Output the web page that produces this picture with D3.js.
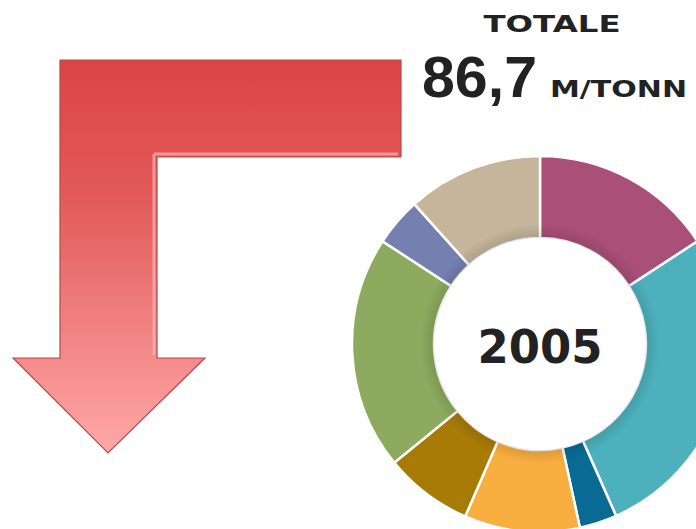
<!DOCTYPE html>
<html>
<head>
<meta charset="utf-8">
<script src="https://cdn.jsdelivr.net/npm/d3@7"></script>
<style>
  body { margin: 0; background: #fff; }
  svg { display: block; }
</style>
</head>
<body>
<svg id="chart" width="696" height="529"></svg>
<script>
// values in M/tonn, read clockwise from 12 o'clock
const values = [13.7, 23.9, 2.8, 8.6, 6.6, 17.4, 3.6, 10.1]
const colors = ["#a94f78", "#4cb1bd", "#096a93", "#f9ae40", "#a87b06", "#8daa5e", "#7580b1", "#c4b59b"]
const year = "2005"
const totalLabel = "TOTALE"
const totalValue = "86,7"
const unit = "M/TONN"

const cx = 540, cy = 344
const outerR = 188, innerR = 106

var svg = d3.select("#chart")
var defs = svg.append("defs")

// arrow gradient
var grad = defs.append("linearGradient")
    .attr("id", "arrowGrad")
    .attr("x1", 0).attr("y1", 0).attr("x2", 0).attr("y2", 1)
grad.append("stop").attr("offset", "0%").attr("stop-color", "#dc4444")
grad.append("stop").attr("offset", "35%").attr("stop-color", "#e25a5a")
grad.append("stop").attr("offset", "100%").attr("stop-color", "#ffa8a8")

// big bent arrow
var arrow = d3.path()
arrow.moveTo(60, 60)
arrow.lineTo(401, 60)
arrow.lineTo(401, 157)
arrow.lineTo(157, 157)
arrow.lineTo(157, 358)
arrow.lineTo(205, 358)
arrow.lineTo(108, 453)
arrow.lineTo(13, 358)
arrow.lineTo(60, 358)
arrow.closePath()

svg.append("path")
    .attr("d", arrow.toString())
    .attr("fill", "url(#arrowGrad)")
    .attr("stroke", "#b84848")
    .attr("stroke-width", 1.2)
    .attr("stroke-linejoin", "miter")

// bevel highlight just inside the inner edges
svg.append("path")
    .attr("d", "M154,154 L398,154 M154,154 L154,355")
    .attr("stroke", "#ffb4b4")
    .attr("stroke-opacity", 0.7)
    .attr("stroke-width", 3)
    .attr("fill", "none")

// donut
var pie = d3.pie().sort(null).value(d => d)
var arc = d3.arc().innerRadius(innerR).outerRadius(outerR)

var g = svg.append("g").attr("transform", "translate(" + cx + "," + cy + ")")

g.selectAll("path.slice")
    .data(pie(values))
    .enter().append("path")
    .attr("class", "slice")
    .attr("d", arc)
    .attr("fill", (d, i) => colors[i])
    .attr("stroke", "#fff")
    .attr("stroke-width", 2.5)

// soft shading toward inner edge
var shade = defs.append("radialGradient")
    .attr("id", "shade")
    .attr("gradientUnits", "userSpaceOnUse")
    .attr("cx", 0).attr("cy", 0).attr("r", outerR)
shade.append("stop").attr("offset", innerR / outerR).attr("stop-color", "#000").attr("stop-opacity", 0.12)
shade.append("stop").attr("offset", (innerR + 14) / outerR).attr("stop-color", "#000").attr("stop-opacity", 0)
shade.append("stop").attr("offset", "100%").attr("stop-color", "#000").attr("stop-opacity", 0)

g.append("path")
    .attr("d", d3.arc().innerRadius(innerR).outerRadius(outerR - 2).startAngle(0).endAngle(2 * Math.PI)())
    .attr("fill", "url(#shade)")
    .attr("pointer-events", "none")

g.append("text")
    .attr("x", 0)
    .attr("y", 19)
    .attr("text-anchor", "middle")
    .attr("font-family", "'DejaVu Sans', sans-serif")
    .attr("font-weight", "bold")
    .attr("font-size", 47)
    .attr("fill", "#222")
    .attr("textLength", 125)
    .attr("lengthAdjust", "spacingAndGlyphs")
    .text(year)

// totals header
svg.append("text")
    .attr("x", 552)
    .attr("y", 32)
    .attr("text-anchor", "middle")
    .attr("font-family", "'DejaVu Sans', sans-serif")
    .attr("font-weight", "bold")
    .attr("font-size", 23)
    .attr("fill", "#222")
    .attr("textLength", 137)
    .attr("lengthAdjust", "spacingAndGlyphs")
    .text(totalLabel)

svg.append("text")
    .attr("x", 422)
    .attr("y", 97)
    .attr("font-family", "'Liberation Sans', Arial, sans-serif")
    .attr("font-weight", "bold")
    .attr("font-size", 58)
    .attr("fill", "#222")
    .attr("textLength", 115)
    .attr("lengthAdjust", "spacingAndGlyphs")
    .text(totalValue)

svg.append("text")
    .attr("x", 550)
    .attr("y", 97)
    .attr("font-family", "'DejaVu Sans', sans-serif")
    .attr("font-weight", "bold")
    .attr("font-size", 23)
    .attr("fill", "#222")
    .attr("textLength", 137)
    .attr("lengthAdjust", "spacingAndGlyphs")
    .text(unit)
</script>
</body>
</html>
